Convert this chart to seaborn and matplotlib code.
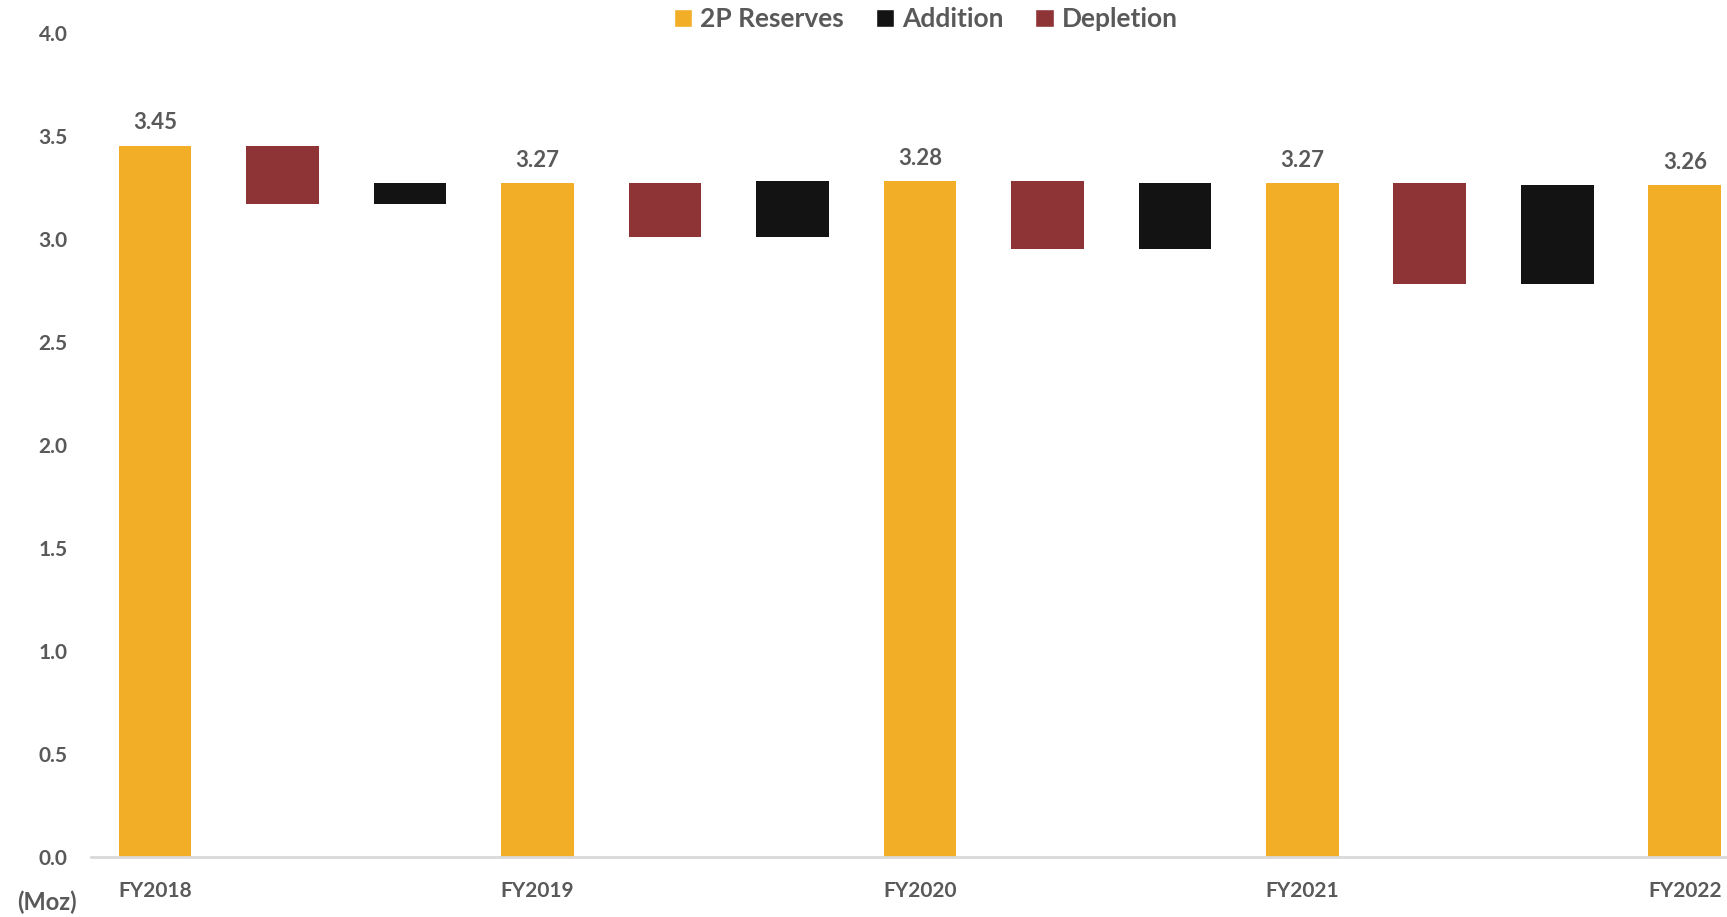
import matplotlib
matplotlib.use("Agg")
import matplotlib.pyplot as plt
import seaborn as sns
import pandas as pd
from matplotlib.patches import Patch

# Gold reserve (2P) per fiscal year, and the yearly movements between them (Moz)
years = ["FY2018", "FY2019", "FY2020", "FY2021", "FY2022"]
reserves = [3.45, 3.27, 3.28, 3.27, 3.26]
depletion = [0.28, 0.26, 0.33, 0.49]
addition = [0.10, 0.27, 0.32, 0.48]

series_names = ["2P Reserves", "Addition", "Depletion"]
colors = {"2P Reserves": "#F2AE27", "Addition": "#131313", "Depletion": "#8E3436"}
text_color = "#595959"

# Build waterfall steps: reserve -> depletion -> addition -> next reserve
rows = []
for i, yr in enumerate(years):
    rows.append(dict(step=yr, kind="2P Reserves", height=reserves[i], base=0.0))
    if i < len(depletion):
        low = reserves[i] - depletion[i]
        rows.append(dict(step=f"{yr} depletion", kind="Depletion", height=depletion[i], base=low))
        rows.append(dict(step=f"{yr} addition", kind="Addition", height=addition[i], base=low))
df = pd.DataFrame(rows)
order = list(df["step"])

sns.set_theme(style="white")
plt.rcParams["font.family"] = ["Lato", "DejaVu Sans"]

fig = plt.figure(figsize=(17.27, 9.17), dpi=100)
ax = fig.add_axes([0.0529, 0.0654, 0.947, 0.899])

bar_w = 0.57
for kind in series_names:
    sub = df[df["kind"] == kind]
    sns.barplot(data=sub, x="step", y="height", order=order, color=colors[kind],
                width=bar_w, bottom=sub["base"].to_numpy(), saturation=1,
                linewidth=0, ax=ax, errorbar=None)

# Value labels on the reserve bars
ax.bar_label(ax.containers[0], labels=[f"{v:.2f}" for v in reserves], padding=9,
             fontsize=16, fontweight="bold", color=text_color)

ax.set_ylim(0, 4.0)
ax.set_xlim(-0.5, 12.33)
ax.set_yticks([0, 0.5, 1.0, 1.5, 2.0, 2.5, 3.0, 3.5, 4.0])
ax.set_yticklabels([f"{v:.1f}" for v in ax.get_yticks()])
reserve_pos = [order.index(y) for y in years]
ax.set_xticks(reserve_pos)
ax.set_xticklabels(years)
ax.set_xlabel("")
ax.set_ylabel("")
ax.tick_params(axis="both", length=0, labelsize=15, labelcolor=text_color)
ax.tick_params(axis="y", pad=17)
ax.tick_params(axis="x", pad=17)
for lab in ax.get_xticklabels() + ax.get_yticklabels():
    lab.set_fontweight("bold")

for side in ["top", "right", "left"]:
    ax.spines[side].set_visible(False)
ax.spines["bottom"].set_color("#D9D9D9")
ax.spines["bottom"].set_linewidth(2)

fig.text(0.0272, 0.0163, "(Moz)", fontsize=17, fontweight="bold", color=text_color,
         ha="center", va="center")

handles = [Patch(facecolor=colors[k], label=k) for k in series_names]
leg = fig.legend(handles=handles, loc="upper center", bbox_to_anchor=(0.536, 1.018), ncol=3,
                 frameon=False, handlelength=0.7, handleheight=0.7, handletextpad=0.3,
                 columnspacing=1.2, prop={"size": 19, "weight": "bold"})
for t in leg.get_texts():
    t.set_color(text_color)

fig.savefig("out.png", dpi=100, facecolor="white")
